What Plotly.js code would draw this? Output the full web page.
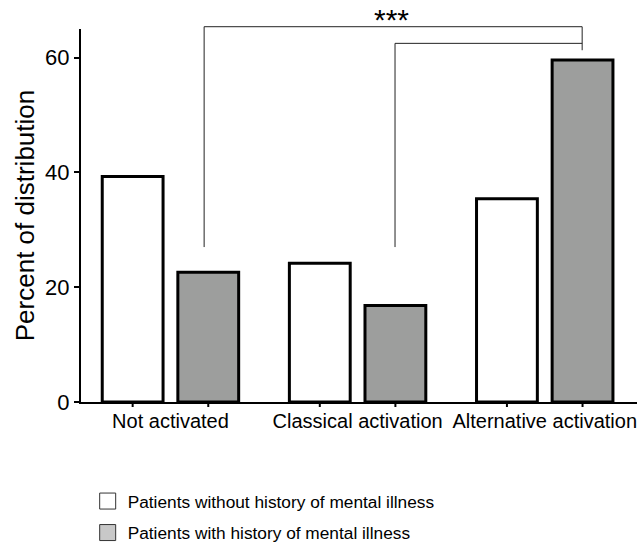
<!DOCTYPE html>
<html>
<head>
<meta charset="utf-8">
<script src="https://cdn.plot.ly/plotly-3.0.1.min.js"></script>
<style>html,body{margin:0;padding:0;background:#fff;}#chart{width:638px;height:545px;}</style>
</head>
<body>
<div id="chart"></div>
<script>
// ---- data ----
const categories = ['Not activated', 'Classical activation', 'Alternative activation'];
const seriesNames = ['Patients without history of mental illness', 'Patients with history of mental illness'];
const withoutHistory = [39.3, 24.2, 35.4];
const withHistory = [22.6, 16.8, 59.6];
const yTickVals = [0, 20, 40, 60];
const significance = '***';
// brackets (data units): left x, right x, bottom of left leg, top, bottom of right leg
const bracketLeftX = [0.18, 1.2];
const bracketRightX = [2.2, 2.2];
const bracketLegBottom = [27.0, 27.0];
const bracketTop = [65.4, 62.5];
const bracketRightBottom = [61.3, 62.5];
const starsX = 1.183;
const starsY = 66.7;

// ---- styling ----
const yMax = 65;
const offset = 0.202;
const barWidth = 0.325;
const font = 'Liberation Sans, Arial, sans-serif';
const barGray = '#9d9e9d';
const legendGray = '#c8c8c8';

const idx = categories.map((c, i) => i);
const barCenters = idx.map(i => i - offset).concat(idx.map(i => i + offset));

const traces = [
  {
    type: 'bar', x: idx.map(i => i - offset), y: withoutHistory, width: barWidth,
    name: seriesNames[0], showlegend: false, hoverinfo: 'none',
    marker: {color: '#ffffff', line: {color: '#000000', width: 3}}
  },
  {
    type: 'bar', x: idx.map(i => i + offset), y: withHistory, width: barWidth,
    name: seriesNames[1], showlegend: false, hoverinfo: 'none',
    marker: {color: barGray, line: {color: '#000000', width: 3}}
  },
  {
    type: 'scatter', mode: 'markers', x: [null], y: [null], name: seriesNames[0],
    legendgroup: 'a', hoverinfo: 'none',
    marker: {symbol: 'square', size: 16, color: '#ffffff', line: {color: '#333333', width: 1}}
  },
  {
    type: 'scatter', mode: 'markers', x: [null], y: [null], name: seriesNames[1],
    legendgroup: 'b', hoverinfo: 'none',
    marker: {symbol: 'square', size: 16, color: legendGray, line: {color: '#333333', width: 1}}
  }
];

const toPaper = v => v / yMax;
const shapes = [];
bracketLeftX.forEach((lx, k) => {
  const rx = bracketRightX[k];
  shapes.push({
    type: 'path', xref: 'x', yref: 'paper',
    path: 'M' + lx + ',' + toPaper(bracketLegBottom[k]) +
          ' L' + lx + ',' + toPaper(bracketTop[k]) +
          ' L' + rx + ',' + toPaper(bracketTop[k]) +
          ' L' + rx + ',' + toPaper(bracketRightBottom[k]),
    line: {color: '#222222', width: 1}
  });
});
// x tick marks under each bar
barCenters.forEach(xc => {
  shapes.push({
    type: 'line', xref: 'x', yref: 'paper', ysizemode: 'pixel', yanchor: 0,
    x0: xc, x1: xc, y0: 0, y1: -5,
    line: {color: '#000000', width: 2}
  });
});

const layout = {
  width: 638, height: 545,
  margin: {l: 81, r: 1, t: 29, b: 143, autoexpand: false},
  paper_bgcolor: '#ffffff', plot_bgcolor: '#ffffff',
  font: {family: font, color: '#000000'},
  barmode: 'overlay',
  showlegend: true,
  legend: {
    x: 0.012, y: -0.218, xanchor: 'left', yanchor: 'top',
    traceorder: 'grouped', tracegroupgap: 6,
    font: {size: 17.3, family: font, color: '#000000'},
    bgcolor: 'rgba(0,0,0,0)'
  },
  xaxis: {
    range: [-0.478, 2.493],
    tickmode: 'array', tickvals: idx, ticktext: categories,
    ticks: '', showgrid: false, zeroline: false,
    showline: true, linecolor: '#000000', linewidth: 2,
    tickfont: {size: 20, family: font, color: '#000000'},
    fixedrange: true
  },
  yaxis: {
    range: [0, yMax],
    tickmode: 'array', tickvals: yTickVals,
    ticks: 'outside', ticklen: 5, tickwidth: 2, tickcolor: '#000000',
    showgrid: false, zeroline: false,
    showline: true, linecolor: '#000000', linewidth: 2,
    tickfont: {size: 22, family: font, color: '#000000'},
    title: {text: 'Percent of distribution', standoff: 3, font: {size: 26, family: font, color: '#000000'}},
    fixedrange: true
  },
  shapes: shapes,
  annotations: [{
    x: starsX, xref: 'x', y: toPaper(starsY), yref: 'paper',
    xanchor: 'center', yanchor: 'middle',
    text: significance, showarrow: false,
    font: {size: 30, family: font, color: '#000000'}
  }]
};

Plotly.newPlot('chart', traces, layout, {displayModeBar: false, staticPlot: true});
</script>
</body>
</html>
